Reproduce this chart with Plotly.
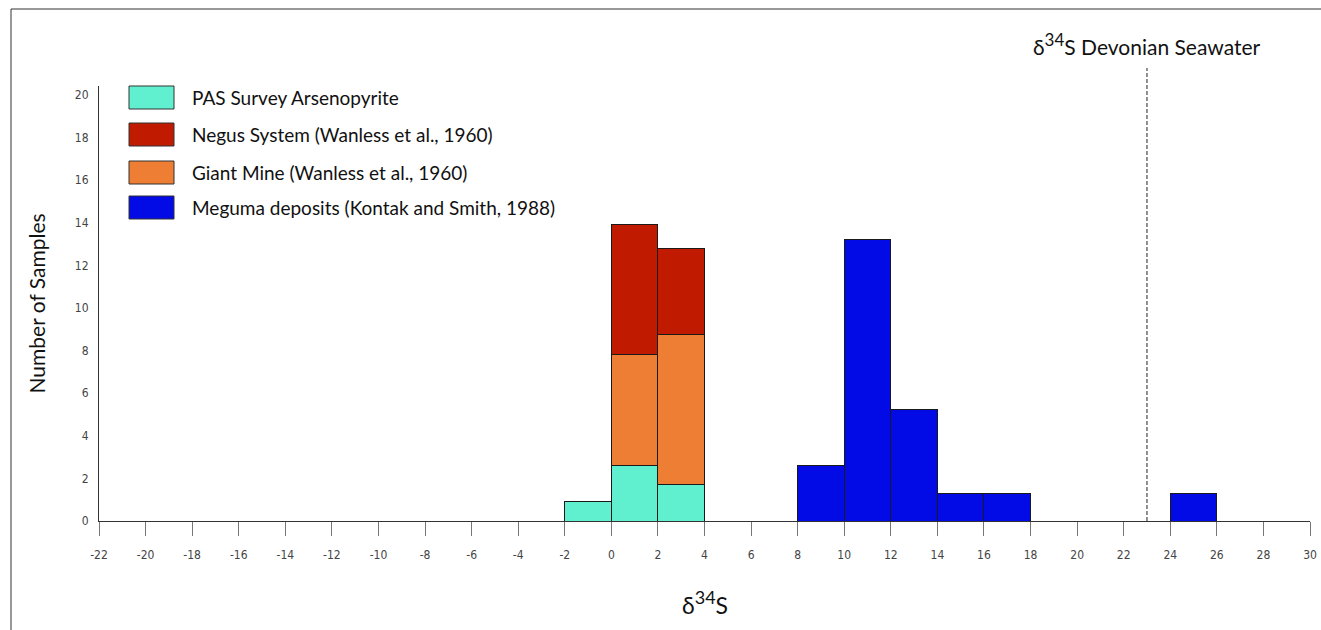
import plotly.graph_objects as go

# ---- data ----
bin_centers = [-1, 1, 3]
pas_survey = [0.9, 2.6, 1.7]
giant_mine = [0, 5.23, 7.04]
negus_system = [0, 6.07, 4.04]

meguma_centers = [9, 11, 13, 15, 17, 25]
meguma = [2.6, 13.2, 5.24, 1.31, 1.31, 1.3]

x_ticks = list(range(-22, 31, 2))
y_ticks = list(range(0, 21, 2))

seawater_x = 23

names = ["PAS Survey Arsenopyrite", "Negus System (Wanless et al., 1960)",
         "Giant Mine (Wanless et al., 1960)", "Meguma deposits (Kontak and Smith, 1988)"]
colors = ["#60F0CF", "#C01B00", "#ED7E33", "#020BE6"]

W, H = 1321, 630
L, R, T, B = 99, 11, 86, 109
PW, PH = W - L - R, H - T - B

def px(xp):
    return (xp - L) / PW

def py(yp):
    return (H - B - yp) / PH

fig = go.Figure()
line = dict(color="#1a1a1a", width=1)
fig.add_bar(x=bin_centers, y=pas_survey, width=2, marker=dict(color=colors[0], line=line), name=names[0])
fig.add_bar(x=bin_centers, y=giant_mine, width=2, marker=dict(color=colors[2], line=line), name=names[2])
fig.add_bar(x=bin_centers, y=negus_system, width=2, marker=dict(color=colors[1], line=line), name=names[1])
fig.add_bar(x=meguma_centers, y=meguma, width=2, marker=dict(color=colors[3], line=line), name=names[3])

font_main = "Lato, 'Open Sans', sans-serif"
tick_font = dict(family="'Liberation Sans Narrow', 'DejaVu Sans Condensed', sans-serif", size=12, color="#444")

fig.update_layout(
    width=W, height=H,
    margin=dict(l=L, r=R, t=T, b=B, autoexpand=False),
    barmode="stack",
    showlegend=False,
    plot_bgcolor="white", paper_bgcolor="white",
    font=dict(family=font_main, color="#111"),
)
fig.update_xaxes(range=[-22, 30], tickvals=x_ticks, ticktext=[str(v) for v in x_ticks],
                 showgrid=False, zeroline=False, showline=True, linecolor="#333", linewidth=1,
                 ticks="outside", ticklen=14, tickcolor="#777", tickwidth=1, automargin=False,
                 tickfont=tick_font, ticklabelstandoff=9)
fig.update_yaxes(range=[0, 20.42], tickvals=y_ticks, showgrid=False, zeroline=False,
                 showline=True, linecolor="#333", linewidth=1, ticks="", automargin=False,
                 tickfont=tick_font, ticklabelstandoff=7)

# frame
fig.add_shape(type="rect", xref="paper", yref="paper", x0=px(11), x1=px(1330), y0=py(640), y1=py(9),
              line=dict(color="#333", width=1), layer="below")

# seawater line
fig.add_shape(type="line", xref="x", yref="paper", x0=seawater_x, x1=seawater_x, y0=0, y1=py(68),
              line=dict(color="#222", width=1, dash="4px,2px"))
fig.add_annotation(x=seawater_x, xref="x", y=py(44), yref="paper",
                   text="δ<sup><span style='font-size:17px'>34</span></sup>S Devonian Seawater",
                   showarrow=False, font=dict(size=21, family=font_main, color="#111"), xanchor="center", yanchor="middle")

# axis titles
fig.add_annotation(x=px(36), xref="paper", y=0.5, yref="paper", text="Number of Samples", textangle=-90,
                   showarrow=False, font=dict(size=21, family=font_main, color="#111"), xanchor="center", yanchor="middle")
fig.add_annotation(x=0.5, xref="paper", y=py(602), yref="paper",
                   text="δ<sup><span style='font-size:18px'>34</span></sup>S",
                   showarrow=False, font=dict(size=23, family=font_main, color="#111"), xanchor="center", yanchor="middle")

# legend
row_tops = [86, 123, 161, 196]
for name, color, top in zip(names, colors, row_tops):
    fig.add_shape(type="rect", xref="paper", yref="paper", x0=px(129), x1=px(174), y0=py(top + 23), y1=py(top),
                  fillcolor=color, line=dict(color="#333", width=1))
    fig.add_annotation(x=px(190), xref="paper", y=py(top + 11.5), yref="paper", text=name, showarrow=False,
                       xanchor="left", yanchor="middle", font=dict(size=19, family=font_main, color="#111"))

fig.write_html("out.html")
